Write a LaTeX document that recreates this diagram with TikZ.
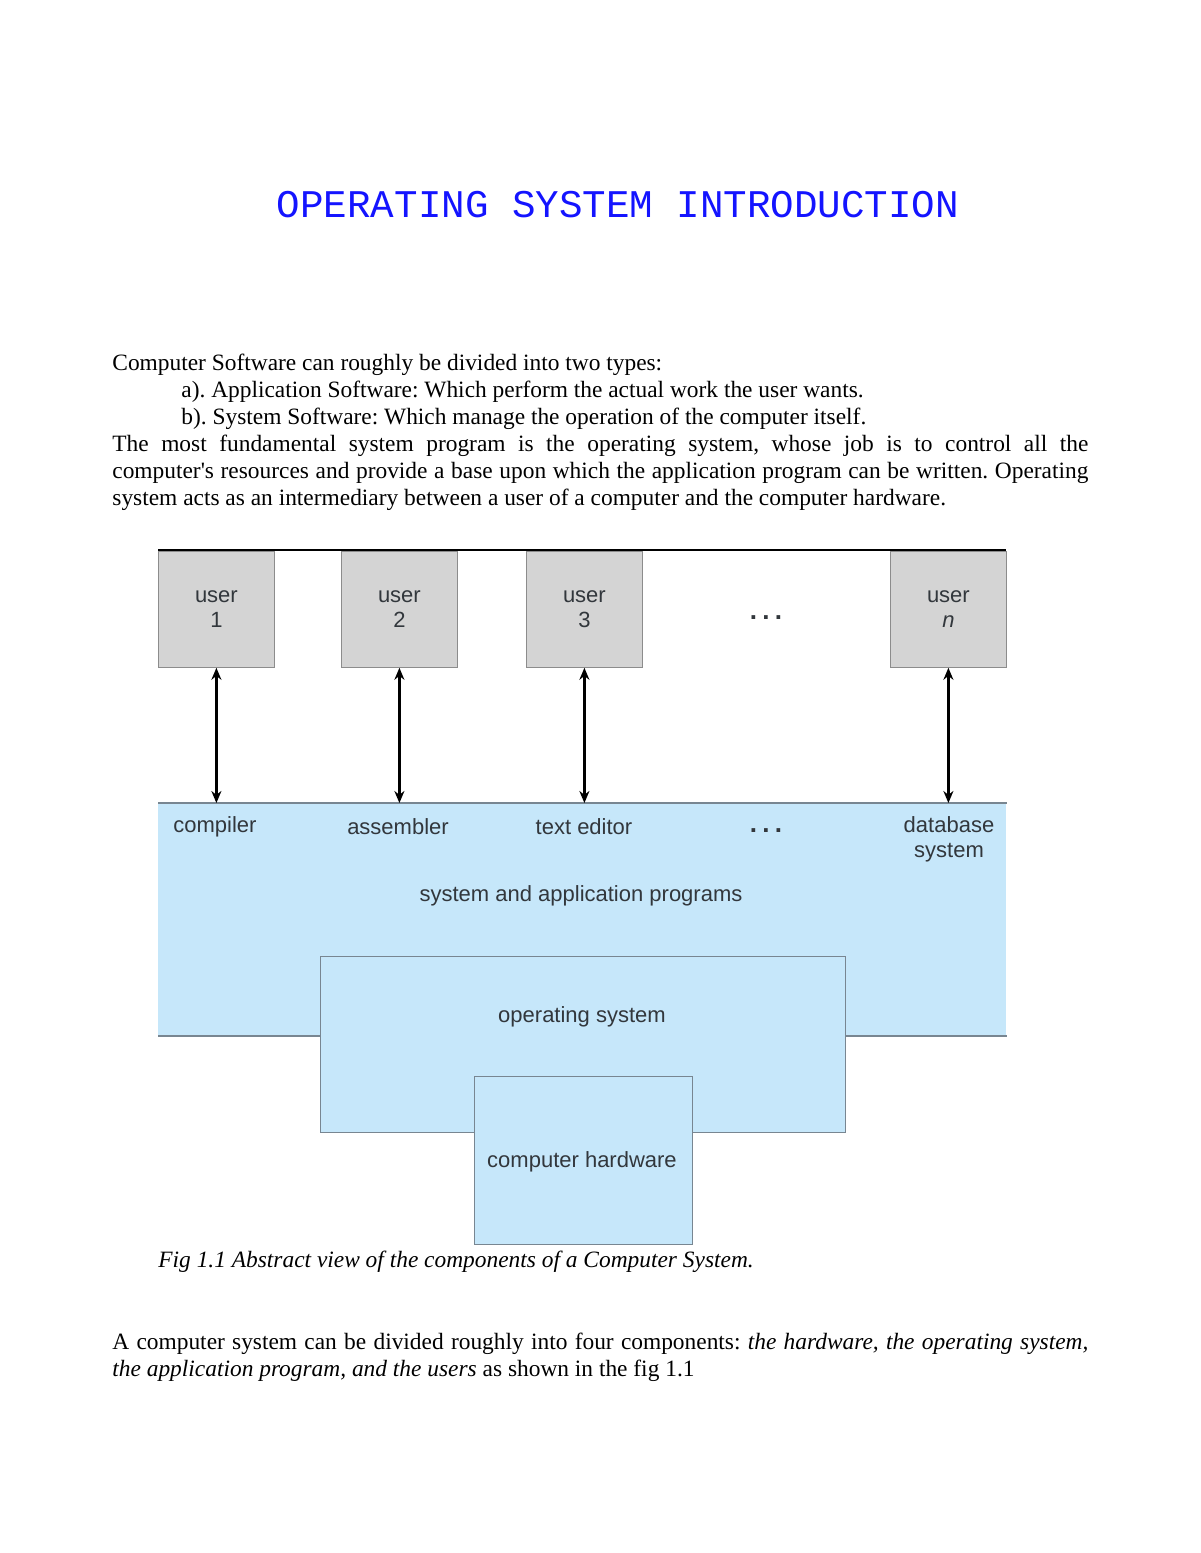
\documentclass[tikz,border=0pt]{standalone}
\usepackage{fontspec}
\setmainfont{Liberation Serif}
\setsansfont{Liberation Sans}
\setmonofont{Liberation Mono}
\usetikzlibrary{arrows.meta,positioning}

\definecolor{userfill}{RGB}{212,212,212}
\definecolor{userline}{RGB}{140,140,140}
\definecolor{progfill}{RGB}{198,231,250}
\definecolor{progline}{RGB}{120,134,145}
\definecolor{titleblue}{RGB}{20,20,255}
\definecolor{labelgray}{RGB}{50,55,60}

\newcommand{\gapdots}{\textbf{.}\hspace{2.6pt}\textbf{.}\hspace{2.6pt}\textbf{.}}

\tikzset{
  userbox/.style={draw=userline, fill=userfill, minimum width=58pt, minimum height=58pt,
    inner sep=0pt, anchor=north west, align=center, font=\sffamily\fontsize{11}{12.5}\selectfont, text=labelgray},
  progbox/.style={fill=progfill, inner sep=0pt, anchor=north west},
  progedge/.style={draw=progline, line width=0.7pt},
  proglabel/.style={font=\sffamily\fontsize{11}{12.5}\selectfont, text=labelgray, align=center, inner sep=0pt},
  dotlabel/.style={font=\sffamily\bfseries\fontsize{13}{14}\selectfont, text=labelgray, inner sep=0pt, anchor=base},
  dblarrow/.style={<->, line width=1.1pt, >={Stealth[length=6pt,width=5pt]}},
  bodytext/.style={font=\fontsize{11.7}{13.5}\selectfont, inner sep=0pt, anchor=base west}
}

\begin{document}
\frenchspacing
\begin{tikzpicture}[x=0.5pt, y=-0.5pt]

    % --- Page frame ---
    \useasboundingbox (0,0) rectangle (1200,1553);

    % --- 1. Title ---
    \node[font=\ttfamily\fontsize{19.6}{24}\selectfont, text=titleblue, inner sep=0pt] (title) at (618,205)
        {OPERATING SYSTEM INTRODUCTION};

    % --- 2. Introduction text ---
    \node[bodytext, text width=488pt, align=justify] (intro) at (112,370) {%
        Computer Software can roughly be divided into two types:\newline
        \hspace*{34.5pt}a). Application Software: Which perform the actual work the user wants.\newline
        \hspace*{34.5pt}b). System Software: Which manage the operation of the computer itself.\newline
        The most fundamental system program is the operating system, whose job is to control all the\linebreak
        computer\textquotesingle s resources and provide a base upon which the application program can be written. Operating\linebreak
        system acts as an intermediary between a user of a computer and the computer hardware.};

    % --- 3. Users ---
    \coordinate (topL) at (158,550);
    \coordinate (topR) at (1006,550);

    \node[userbox] (u1) at (158,551) {user\\1};
    \node[userbox] (u2) at (341,551) {user\\2};
    \node[userbox] (u3) at (526,551) {user\\3};
    \node[userbox] (un) at (890,551) {user\\\textit{n}};
    \node[dotlabel] (udots) at (766,619) {\gapdots};

    \draw[line width=1pt] (topL) -- (topR);

    % --- 4. Layers ---
    \node[progbox, minimum width=424pt, minimum height=116pt] (apps) at (158,803) {};
    \draw[progedge] (apps.north west) -- (apps.north east);
    \draw[progedge] (apps.south west) -- (apps.south east);

    \node[progbox, progedge, minimum width=262.5pt, minimum height=88pt] (os) at (320,956) {};
    \node[progbox, progedge, minimum width=109pt, minimum height=84pt] (hw) at (474,1076) {};

    % program names
    \node[proglabel] (compiler) at (215,827) {compiler};
    \node[proglabel] (assembler) at (398,827) {assembler};
    \node[proglabel] (editor) at (584,827) {text editor};
    \node[dotlabel] (pdots) at (766,832) {\gapdots};
    \node[proglabel] (database) at (949,839) {database\\system};

    \node[proglabel] (appslabel) at (581,896) {system and application programs};
    \node[proglabel] (oslabel) at (582,1017) {operating system};
    \node[proglabel] (hwlabel) at (582,1162) {computer hardware};

    % --- 5. User <-> program arrows ---
    \draw[dblarrow] (u1.south) -- (u1.south |- apps.north);
    \draw[dblarrow] (u2.south) -- (u2.south |- apps.north);
    \draw[dblarrow] (u3.south) -- (u3.south |- apps.north);
    \draw[dblarrow] (un.south) -- (un.south |- apps.north);

    % --- 6. Caption and closing text ---
    \node[bodytext, font=\itshape\fontsize{11.7}{13.5}\selectfont] (caption) at (158,1267)
        {Fig 1.1 Abstract view of the components of a Computer System.};

    \node[bodytext, text width=488pt, align=justify] (closing) at (112,1349) {%
        A computer system can be divided roughly into four components: \textit{the hardware, the operating system,}\linebreak
        \textit{the application program, and the users} as shown in the fig 1.1};

\end{tikzpicture}
\end{document}
